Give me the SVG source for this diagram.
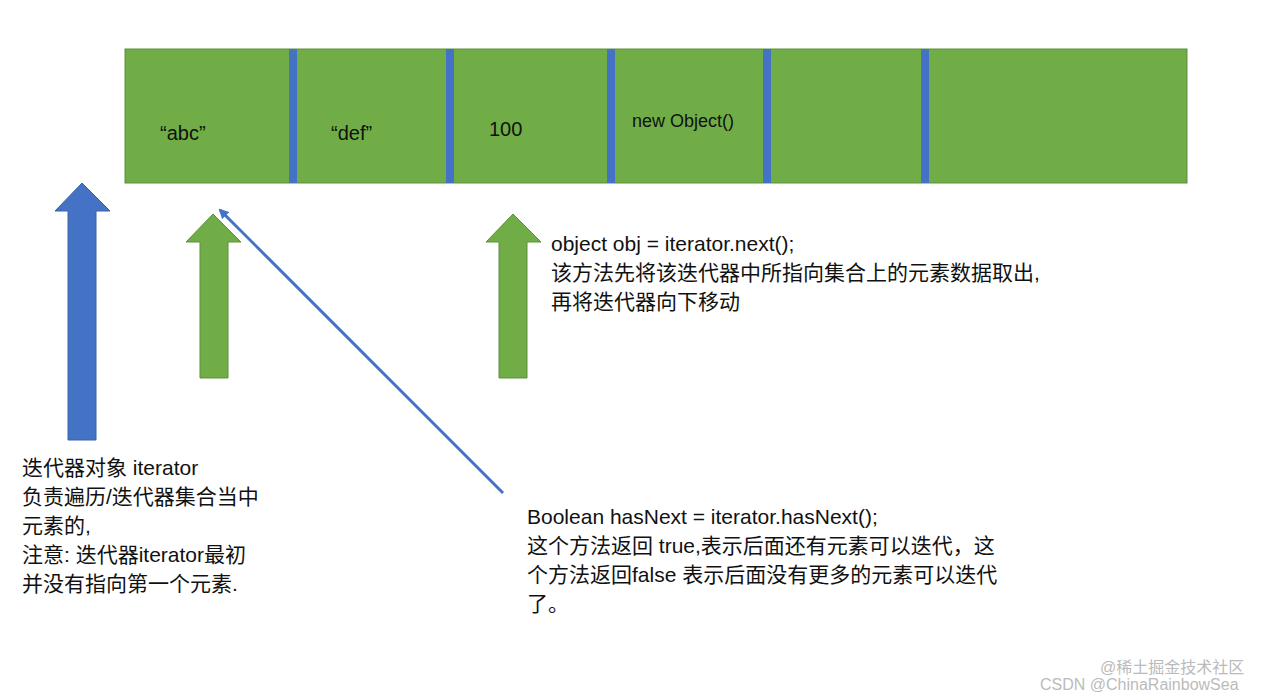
<svg xmlns="http://www.w3.org/2000/svg" width="1282" height="699" viewBox="0 0 1282 699">
<style>
text{font-family:"Liberation Sans","Noto Sans CJK SC",sans-serif;fill:#111;}
.t{font-size:21px}
.c{font-size:20px}
.g{fill:#70ad47;stroke:#5f8f3c;stroke-width:1}
.d{fill:#4472c4}
.w{font-size:16px;fill:#bbb}
</style>
<defs><marker id="ah" markerWidth="10" markerHeight="10" refX="8" refY="5" orient="auto" markerUnits="userSpaceOnUse"><path d="M0,0 L10,5 L0,10 z" fill="#4472c4"/></marker></defs>
<rect width="1282" height="699" fill="#fff"/>
<g id="array">
<rect class="g" x="125" y="49" width="1062" height="134"/>
<rect class="d" x="289" y="49" width="8" height="134"/>
<rect class="d" x="446" y="49" width="8" height="134"/>
<rect class="d" x="607" y="49" width="8" height="134"/>
<rect class="d" x="763" y="49" width="8" height="134"/>
<rect class="d" x="921" y="49" width="8" height="134"/>
<text class="c" x="160" y="140">“abc”</text>
<text class="c" x="331" y="140">“def”</text>
<text class="c" x="489" y="136">100</text>
<text x="632" y="127" font-size="18">new Object()</text>
</g>
<g id="iterArrow"><path d="M82,183 L110,211 L96,211 L96,440 L68,440 L68,211 L55,211 Z" fill="#4472c4" stroke="#3a62a8"/></g>
<g id="greenArrow1"><path d="M213,214 L241,242 L228,242 L228,378 L200,378 L200,242 L186,242 Z" class="g"/></g>
<g id="greenArrow2"><path d="M513,214 L541,242 L527,242 L527,378 L499,378 L499,242 L486,242 Z" class="g"/></g>
<g id="connectors"><line x1="503" y1="493" x2="220" y2="210" stroke="#4472c4" stroke-width="3" marker-end="url(#ah)"/></g>
<g id="note1">
<text class="t" x="22" y="475">迭代器对象 iterator</text>
<text class="t" x="22" y="504">负责遍历/迭代器集合当中</text>
<text class="t" x="22" y="533">元素的,</text>
<text class="t" x="22" y="562">注意: 迭代器iterator最初</text>
<text class="t" x="22" y="591">并没有指向第一个元素.</text>
</g>
<g id="note2">
<text class="t" x="551" y="251">object obj = iterator.next();</text>
<text class="t" x="551" y="280">该方法先将该迭代器中所指向集合上的元素数据取出,</text>
<text class="t" x="551" y="309">再将迭代器向下移动</text>
</g>
<g id="note3">
<text class="t" x="527" y="524">Boolean hasNext = iterator.hasNext();</text>
<text class="t" x="527" y="553">这个方法返回 true,表示后面还有元素可以迭代，这</text>
<text class="t" x="527" y="582">个方法返回false 表示后面没有更多的元素可以迭代</text>
<text class="t" x="527" y="611">了。</text>
</g>
<text class="w" x="1100" y="673">@稀土掘金技术社区</text>
<text class="w" x="1040" y="690">CSDN @ChinaRainbowSea</text>
</svg>
